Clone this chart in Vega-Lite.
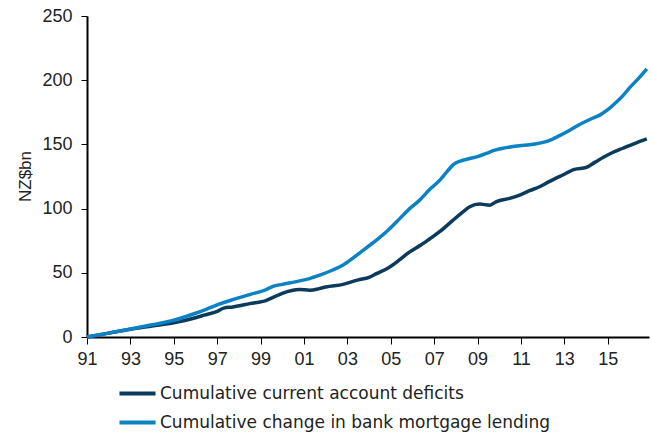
{
  "$schema": "https://vega.github.io/schema/vega-lite/v6.json",
  "width": 562,
  "height": 321,
  "autosize": "none",
  "padding": {"left": 87, "top": 16, "right": 3, "bottom": 96},
  "background": "white",
  "config": {"view": {"stroke": null}},
  "datasets": {
    "mortgage": [
      {"t": 1991.0, "v": 0}, {"t": 1992.0, "v": 3}, {"t": 1993.0, "v": 6.3}, {"t": 1994.0, "v": 9.5},
      {"t": 1995.0, "v": 13}, {"t": 1996.0, "v": 18.5}, {"t": 1996.4, "v": 21}, {"t": 1997.0, "v": 25},
      {"t": 1997.7, "v": 29}, {"t": 1998.5, "v": 33}, {"t": 1999.27, "v": 37}, {"t": 1999.57, "v": 39.5},
      {"t": 2000.0, "v": 41}, {"t": 2000.8, "v": 43.7}, {"t": 2001.26, "v": 45.5}, {"t": 2001.7, "v": 48},
      {"t": 2002.3, "v": 52}, {"t": 2002.8, "v": 56}, {"t": 2003.3, "v": 62}, {"t": 2003.8, "v": 68.5},
      {"t": 2004.34, "v": 75.4}, {"t": 2004.9, "v": 83.5}, {"t": 2005.4, "v": 92}, {"t": 2005.87, "v": 100},
      {"t": 2006.33, "v": 106.6}, {"t": 2006.8, "v": 115}, {"t": 2007.25, "v": 122}, {"t": 2007.6, "v": 129},
      {"t": 2007.87, "v": 134}, {"t": 2008.2, "v": 137}, {"t": 2008.64, "v": 139}, {"t": 2009.0, "v": 140.5},
      {"t": 2009.4, "v": 143}, {"t": 2009.8, "v": 145.5}, {"t": 2010.17, "v": 147}, {"t": 2010.5, "v": 148},
      {"t": 2010.94, "v": 149}, {"t": 2011.4, "v": 149.7}, {"t": 2011.86, "v": 151}, {"t": 2012.3, "v": 153},
      {"t": 2012.8, "v": 157}, {"t": 2013.25, "v": 161}, {"t": 2013.7, "v": 165.5}, {"t": 2014.2, "v": 169.6},
      {"t": 2014.65, "v": 173}, {"t": 2015.0, "v": 177}, {"t": 2015.4, "v": 183}, {"t": 2015.7, "v": 188},
      {"t": 2016.0, "v": 194}, {"t": 2016.4, "v": 201}, {"t": 2016.8, "v": 208.8}
    ],
    "deficit": [
      {"t": 1991.0, "v": 0}, {"t": 1992.0, "v": 3}, {"t": 1993.0, "v": 6}, {"t": 1994.0, "v": 8.5},
      {"t": 1995.0, "v": 11}, {"t": 1996.0, "v": 15}, {"t": 1996.4, "v": 17}, {"t": 1997.0, "v": 20},
      {"t": 1997.3, "v": 22.5}, {"t": 1997.73, "v": 23.4}, {"t": 1998.5, "v": 26}, {"t": 1999.27, "v": 28.6},
      {"t": 1999.6, "v": 31}, {"t": 2000.0, "v": 34}, {"t": 2000.8, "v": 37}, {"t": 2001.26, "v": 36.5},
      {"t": 2001.7, "v": 37.7}, {"t": 2002.0, "v": 39}, {"t": 2002.8, "v": 41}, {"t": 2003.5, "v": 44.5},
      {"t": 2004.0, "v": 46.5}, {"t": 2004.34, "v": 49.4}, {"t": 2004.9, "v": 54}, {"t": 2005.4, "v": 60},
      {"t": 2005.87, "v": 66.3}, {"t": 2006.33, "v": 71}, {"t": 2006.8, "v": 76.5}, {"t": 2007.25, "v": 82},
      {"t": 2007.87, "v": 91}, {"t": 2008.3, "v": 97}, {"t": 2008.64, "v": 101.4}, {"t": 2009.1, "v": 103.5},
      {"t": 2009.56, "v": 102.7}, {"t": 2009.87, "v": 105.5}, {"t": 2010.48, "v": 108}, {"t": 2010.94, "v": 110.5},
      {"t": 2011.4, "v": 114}, {"t": 2011.86, "v": 117}, {"t": 2012.3, "v": 121}, {"t": 2012.9, "v": 126},
      {"t": 2013.47, "v": 130.6}, {"t": 2014.0, "v": 132}, {"t": 2014.4, "v": 136}, {"t": 2014.8, "v": 140},
      {"t": 2015.2, "v": 143.5}, {"t": 2015.7, "v": 147}, {"t": 2016.2, "v": 150.5}, {"t": 2016.8, "v": 154.3}
    ]
  },
  "layer": [
    {
      "data": {"name": "deficit"},
      "transform": [{"calculate": "'Cumulative current account deficits'", "as": "series"}],
      "mark": {"type": "line", "strokeWidth": 3.5, "interpolate": "monotone"},
      "encoding": {
        "x": {"field": "t", "type": "quantitative"},
        "y": {"field": "v", "type": "quantitative"},
        "color": {"field": "series", "type": "nominal"}
      }
    },
    {
      "data": {"name": "mortgage"},
      "transform": [{"calculate": "'Cumulative change in bank mortgage lending'", "as": "series"}],
      "mark": {"type": "line", "strokeWidth": 3.5, "interpolate": "monotone"},
      "encoding": {
        "x": {"field": "t", "type": "quantitative"},
        "y": {"field": "v", "type": "quantitative"},
        "color": {"field": "series", "type": "nominal"}
      }
    }
  ],
  "encoding": {
    "x": {
      "field": "t", "type": "quantitative",
      "scale": {"domain": [1991, 2016.9], "nice": false, "zero": false},
      "axis": {
        "title": null, "grid": false,
        "values": [1991, 1993, 1995, 1997, 1999, 2001, 2003, 2005, 2007, 2009, 2011, 2013, 2015],
        "labelExpr": "slice(toString(datum.value), 2)",
        "domainColor": "#000", "domainWidth": 2, "tickColor": "#000", "tickWidth": 1, "tickSize": 7,
        "labelFont": "Liberation Sans", "labelFontSize": 18, "labelColor": "#222", "labelPadding": 6,
        "labelFlush": false
      }
    },
    "y": {
      "field": "v", "type": "quantitative",
      "scale": {"domain": [0, 250], "nice": false},
      "axis": {
        "title": "NZ$bn", "grid": false,
        "values": [0, 50, 100, 150, 200, 250],
        "domainColor": "#000", "domainWidth": 2, "tickColor": "#000", "tickWidth": 1, "tickSize": 6,
        "labelFont": "Liberation Sans", "labelFontSize": 18, "labelColor": "#222", "labelPadding": 9,
        "titleFont": "Liberation Sans", "titleFontSize": 17, "titleFontWeight": "normal", "titleColor": "#222",
        "titleX": -62, "titleY": 160, "titleAngle": -90, "titleAlign": "center", "titleBaseline": "middle"
      }
    },
    "color": {
      "field": "series", "type": "nominal",
      "scale": {
        "domain": ["Cumulative current account deficits", "Cumulative change in bank mortgage lending"],
        "range": ["#0b3a5c", "#0a82c4"]
      },
      "legend": {
        "title": null, "orient": "none", "legendX": 30, "legendY": 357,
        "symbolType": "stroke", "symbolSize": 1300, "symbolStrokeWidth": 4,
        "labelFont": "DejaVu Sans", "labelFontSize": 17, "labelColor": "#222", "labelOffset": 2,
        "rowPadding": -8, "padding": 0, "labelLimit": 500
      }
    }
  }
}
